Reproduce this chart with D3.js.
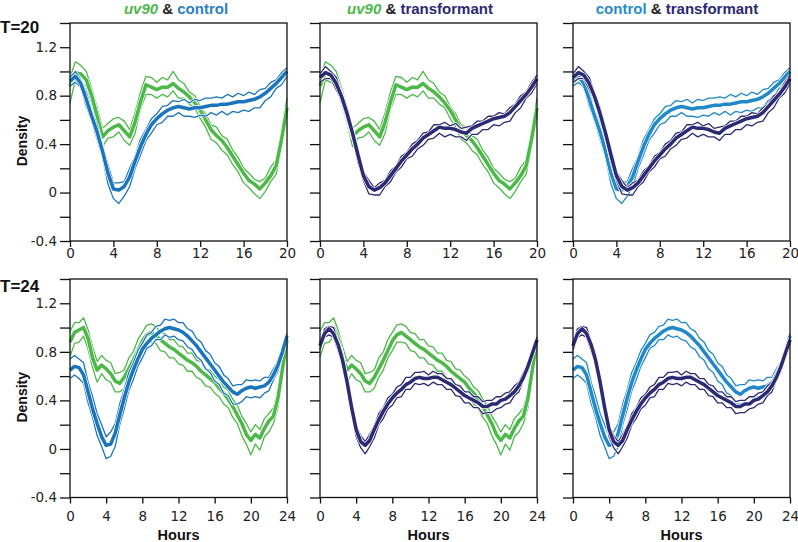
<!DOCTYPE html>
<html><head><meta charset="utf-8">
<script src="https://cdn.jsdelivr.net/npm/d3@7"></script>
<style>
body{margin:0;background:#fff}
svg{display:block}
text{font-family:"Liberation Sans",Arial,sans-serif}
.tick text{font-family:"DejaVu Sans",Verdana,sans-serif}
</style>
</head><body>
<svg id="chart" width="798" height="542"></svg>
<script>
// ---------- data ----------
const hours20 = [0,0.5,1,1.5,2,2.5,3,3.5,4,4.5,5,5.5,6,6.5,7,7.5,8,8.5,9,9.5,10,10.5,11,11.5,12,12.5,13,13.5,14,14.5,15,15.5,16,16.5,17,17.5,18,18.5,19,19.5,20];
const hours24 = [0,0.5,1,1.5,2,2.5,3,3.5,4,4.5,5,5.5,6,6.5,7,7.5,8,8.5,9,9.5,10,10.5,11,11.5,12,12.5,13,13.5,14,14.5,15,15.5,16,16.5,17,17.5,18,18.5,19,19.5,20,20.5,21,21.5,22,22.5,23,23.5,24];

// T=20
const uv90T20Mean  = [0.88,0.99,0.98,0.93,0.80,0.63,0.46,0.51,0.54,0.56,0.51,0.46,0.58,0.75,0.89,0.87,0.85,0.87,0.87,0.90,0.86,0.83,0.79,0.74,0.68,0.60,0.52,0.47,0.43,0.37,0.30,0.23,0.16,0.10,0.07,0.03,0.08,0.14,0.22,0.44,0.70];
const uv90T20Upper = [0.95,1.08,1.05,1.00,0.86,0.70,0.53,0.57,0.61,0.62,0.59,0.52,0.66,0.83,0.96,0.95,0.91,0.95,0.93,1.00,0.93,0.90,0.83,0.80,0.71,0.65,0.56,0.54,0.47,0.44,0.35,0.29,0.20,0.16,0.11,0.09,0.12,0.21,0.27,0.51,0.78];
const uv90T20Lower = [0.74,0.93,0.91,0.88,0.73,0.57,0.38,0.45,0.46,0.50,0.43,0.39,0.49,0.69,0.81,0.81,0.78,0.81,0.79,0.84,0.78,0.78,0.73,0.70,0.61,0.54,0.44,0.41,0.35,0.31,0.23,0.17,0.08,0.04,-0.01,-0.05,0.01,0.09,0.15,0.37,0.62];

const controlT20Mean  = [0.92,0.96,0.90,0.77,0.63,0.50,0.34,0.16,0.03,0.02,0.05,0.13,0.26,0.38,0.48,0.56,0.61,0.65,0.68,0.70,0.71,0.70,0.69,0.70,0.70,0.71,0.72,0.72,0.73,0.73,0.74,0.75,0.75,0.76,0.77,0.79,0.82,0.86,0.90,0.95,1.00];
const controlT20Upper = [0.95,1.00,0.93,0.83,0.67,0.56,0.39,0.23,0.08,0.08,0.09,0.20,0.30,0.44,0.52,0.61,0.65,0.71,0.72,0.76,0.75,0.77,0.74,0.77,0.76,0.78,0.78,0.79,0.78,0.81,0.79,0.82,0.80,0.83,0.81,0.85,0.86,0.91,0.93,0.99,1.03];
const controlT20Lower = [0.88,0.91,0.87,0.71,0.59,0.44,0.29,0.07,-0.05,-0.09,-0.03,0.05,0.20,0.31,0.43,0.49,0.56,0.58,0.63,0.63,0.66,0.63,0.63,0.62,0.64,0.63,0.66,0.64,0.67,0.64,0.67,0.66,0.68,0.67,0.70,0.70,0.76,0.79,0.86,0.89,0.96];

const transT20Mean  = [0.95,0.99,0.97,0.90,0.79,0.65,0.49,0.31,0.14,0.05,0.02,0.04,0.08,0.14,0.20,0.26,0.31,0.36,0.40,0.45,0.48,0.51,0.54,0.53,0.53,0.52,0.50,0.49,0.53,0.55,0.57,0.59,0.61,0.62,0.63,0.66,0.71,0.76,0.81,0.87,0.94];
const transT20Upper = [0.98,1.04,1.00,0.95,0.82,0.70,0.52,0.36,0.17,0.10,0.04,0.08,0.10,0.18,0.22,0.30,0.33,0.40,0.43,0.49,0.50,0.56,0.56,0.58,0.55,0.57,0.53,0.54,0.55,0.59,0.59,0.63,0.63,0.66,0.65,0.70,0.73,0.80,0.83,0.91,0.97];
const transT20Lower = [0.91,0.94,0.94,0.85,0.76,0.60,0.46,0.25,0.10,-0.01,-0.02,-0.02,0.05,0.09,0.17,0.21,0.28,0.30,0.36,0.39,0.44,0.45,0.49,0.46,0.48,0.46,0.46,0.43,0.48,0.48,0.52,0.52,0.56,0.55,0.58,0.59,0.66,0.70,0.78,0.82,0.90];

// T=24
const uv90T24Mean  = [0.88,0.96,0.98,1.00,0.91,0.75,0.65,0.69,0.66,0.62,0.56,0.54,0.59,0.66,0.73,0.81,0.89,0.94,0.96,0.93,0.90,0.87,0.84,0.82,0.79,0.76,0.73,0.71,0.68,0.64,0.61,0.58,0.55,0.50,0.46,0.41,0.35,0.28,0.21,0.12,0.07,0.12,0.09,0.17,0.23,0.27,0.42,0.66,0.90];
const uv90T24Upper = [0.97,1.04,1.04,1.08,0.98,0.84,0.72,0.77,0.73,0.71,0.62,0.63,0.65,0.75,0.80,0.90,0.96,1.02,1.03,1.01,0.96,0.95,0.90,0.90,0.85,0.84,0.79,0.79,0.73,0.72,0.66,0.65,0.60,0.57,0.51,0.48,0.41,0.36,0.27,0.21,0.14,0.20,0.16,0.25,0.29,0.34,0.47,0.71,0.92];
const uv90T24Lower = [0.76,0.87,0.88,0.93,0.82,0.67,0.55,0.62,0.57,0.55,0.47,0.47,0.50,0.59,0.65,0.75,0.81,0.88,0.88,0.87,0.81,0.80,0.75,0.75,0.70,0.69,0.64,0.64,0.59,0.57,0.52,0.51,0.46,0.43,0.37,0.34,0.26,0.21,0.11,0.04,-0.05,0.04,-0.01,0.10,0.14,0.21,0.34,0.61,0.86];

const controlT24Mean  = [0.65,0.68,0.67,0.61,0.47,0.33,0.21,0.10,0.03,0.04,0.13,0.28,0.42,0.55,0.65,0.74,0.82,0.87,0.91,0.94,0.97,0.99,1.00,0.99,0.98,0.96,0.93,0.89,0.85,0.80,0.75,0.70,0.65,0.60,0.55,0.51,0.47,0.45,0.48,0.50,0.51,0.50,0.51,0.52,0.55,0.61,0.69,0.80,0.93];
const controlT24Upper = [0.74,0.77,0.74,0.71,0.55,0.43,0.29,0.20,0.10,0.14,0.21,0.37,0.49,0.63,0.71,0.81,0.87,0.94,0.96,1.01,1.02,1.07,1.06,1.07,1.04,1.04,0.99,0.97,0.91,0.88,0.81,0.78,0.71,0.68,0.61,0.58,0.52,0.53,0.53,0.57,0.56,0.57,0.56,0.59,0.59,0.66,0.72,0.84,0.95];
const controlT24Lower = [0.58,0.61,0.58,0.54,0.38,0.26,0.11,0.02,-0.08,-0.06,0.02,0.20,0.33,0.48,0.57,0.68,0.75,0.83,0.85,0.90,0.90,0.94,0.92,0.93,0.90,0.89,0.84,0.82,0.76,0.73,0.66,0.63,0.56,0.53,0.46,0.44,0.37,0.37,0.39,0.43,0.42,0.43,0.42,0.46,0.48,0.57,0.64,0.78,0.91];

const transT24Mean  = [0.85,0.95,0.99,0.95,0.86,0.73,0.55,0.34,0.16,0.06,0.03,0.07,0.16,0.24,0.31,0.37,0.42,0.46,0.49,0.53,0.55,0.58,0.59,0.58,0.58,0.59,0.59,0.57,0.55,0.53,0.50,0.47,0.44,0.42,0.40,0.38,0.35,0.35,0.37,0.37,0.40,0.41,0.44,0.47,0.52,0.59,0.68,0.79,0.90];
const transT24Upper = [0.88,0.99,1.01,1.00,0.89,0.78,0.58,0.39,0.19,0.11,0.06,0.12,0.19,0.29,0.34,0.42,0.45,0.51,0.53,0.59,0.59,0.63,0.63,0.64,0.61,0.64,0.62,0.62,0.58,0.58,0.53,0.52,0.47,0.47,0.43,0.43,0.39,0.40,0.40,0.43,0.43,0.46,0.47,0.52,0.55,0.63,0.70,0.82,0.92];
const transT24Lower = [0.82,0.92,0.94,0.92,0.81,0.70,0.49,0.30,0.10,0.01,-0.04,0.02,0.09,0.20,0.25,0.33,0.36,0.42,0.43,0.49,0.49,0.54,0.53,0.54,0.52,0.55,0.53,0.53,0.49,0.49,0.44,0.43,0.38,0.38,0.34,0.34,0.29,0.30,0.30,0.33,0.34,0.37,0.38,0.44,0.47,0.57,0.64,0.78,0.88];

const yTickValues = [-0.4,-0.2,0,0.2,0.4,0.6,0.8,1.0,1.2,1.4];
const yLabelValues = [-0.4,0,0.4,0.8,1.2];
const xTicks20 = [0,4,8,12,16,20];
const xTicks24 = [0,4,8,12,16,20,24];
const rowLabels = ["T=20","T=24"];

// ---------- build ----------
const GREEN = "#4cb848", BLUE = "#1b75bc", LBLUE = "#2189c8", NAVY = "#2b2a72";
const uv90 = {T20:[uv90T20Lower,uv90T20Upper,uv90T20Mean], T24:[uv90T24Lower,uv90T24Upper,uv90T24Mean]};
const ctrl = {T20:[controlT20Lower,controlT20Upper,controlT20Mean], T24:[controlT24Lower,controlT24Upper,controlT24Mean]};
const trans = {T20:[transT20Lower,transT20Upper,transT20Mean], T24:[transT24Lower,transT24Upper,transT24Mean]};

const columns = [
  {series:[[uv90,GREEN],[ctrl,BLUE]], title:[["uv90",GREEN,true],[" & ","#231f20",false],["control","#2a7fc1",false]], tx:176},
  {series:[[uv90,GREEN],[trans,NAVY]], title:[["uv90",GREEN,true],[" & ","#231f20",false],["transformant","#2b2a72",false]], tx:420},
  {series:[[ctrl,LBLUE],[trans,NAVY]], title:[["control","#2a8cc9",false],[" & ","#231f20",false],["transformant","#2b2a72",false]], tx:677}
];
const colX = [[70,287],[320,537],[573,790]];
const rows = [
  {key:"T20", hours:hours20, xt:xTicks20, y0:23, y1:241, pad:1, lab:rowLabels[0], ly:33},
  {key:"T24", hours:hours24, xt:xTicks24, y0:279, y1:497.5, pad:8, lab:rowLabels[1], ly:292}
];

const svg = d3.select("#chart");

columns.forEach(col=>{
  const t = svg.append("text").attr("x",col.tx).attr("y",14).attr("text-anchor","middle")
    .attr("font-size",15).attr("font-weight","bold");
  col.title.forEach(([s,c,it])=>{
    t.append("tspan").text(s).attr("fill",c).attr("font-style",it?"italic":"normal");
  });
});

rows.forEach((row,ri)=>{
  svg.append("text").attr("x",0).attr("y",row.ly).attr("font-size",17).attr("font-weight","bold")
    .attr("fill","#111").text(row.lab);
  const T = row.hours[row.hours.length-1];
  const y = d3.scaleLinear().domain([-0.4,1.4]).range([row.y1,row.y0]);
  columns.forEach((col,ci)=>{
    const x = d3.scaleLinear().domain([0,T]).range(colX[ci]);
    const g = svg.append("g");
    const line = d3.line().x((d,i)=>x(row.hours[i])).y(d=>y(d));
    col.series.forEach(([strain,color])=>{
      const arrs = strain[row.key];
      arrs.forEach((arr,k)=>{
        const w = k===2 ? 3.5 : 1.3;
        g.append("path").attr("d",line(arr)).attr("fill","none").attr("stroke","#fff")
          .attr("stroke-width",w+1.4).attr("stroke-linejoin","round");
        g.append("path").attr("d",line(arr)).attr("fill","none").attr("stroke",color)
          .attr("stroke-width",w).attr("stroke-linejoin","round");
      });
    });
    // frame
    g.append("rect").attr("x",colX[ci][0]).attr("y",row.y0).attr("width",colX[ci][1]-colX[ci][0])
      .attr("height",row.y1-row.y0).attr("fill","none").attr("stroke","#111").attr("stroke-width",1.3);
    // y axis
    const ya = g.append("g").attr("transform",`translate(${colX[ci][0]},0)`)
      .call(d3.axisLeft(y).tickValues(yTickValues).tickSize(10).tickPadding(3)
        .tickFormat(d=>{
          if(ci!==0) return "";
          const lab = yLabelValues.find(v=>Math.abs(v-d)<1e-6);
          return lab===undefined ? "" : (lab===0 ? "0" : lab.toFixed(1));
        }));
    ya.select(".domain").remove();
    ya.selectAll(".tick line").attr("stroke","#111").attr("stroke-width",1.3);
    ya.selectAll(".tick text").attr("font-size",13.5).attr("fill","#222");
    // x axis
    const xa = g.append("g").attr("transform",`translate(0,${row.y1})`)
      .call(d3.axisBottom(x).tickValues(row.xt).tickSize(6).tickPadding(row.pad).tickFormat(d3.format("d")));
    xa.select(".domain").remove();
    xa.selectAll(".tick line").attr("stroke","#111").attr("stroke-width",1.3);
    xa.selectAll(".tick text").attr("font-size",13.5).attr("fill","#222");
    if(ci===0){
      svg.append("text").attr("transform",`translate(27,${(row.y0+row.y1)/2+9}) rotate(-90)`)
        .attr("text-anchor","middle").attr("font-size",14).attr("font-weight","bold").attr("fill","#111").text("Density");
    }
    if(ri===1){
      svg.append("text").attr("x",(colX[ci][0]+colX[ci][1])/2).attr("y",540).attr("text-anchor","middle")
        .attr("font-size",14.5).attr("font-weight","bold").attr("fill","#111").text("Hours");
    }
  });
});
</script>
</body></html>
